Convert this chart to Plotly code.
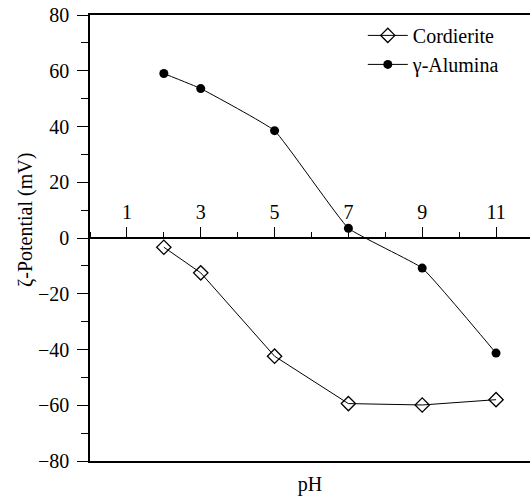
import plotly.graph_objects as go

ph = [2, 3, 5, 7, 9, 11]
cordierite = [-3.3, -12.5, -42.4, -59.4, -59.9, -58.0]
alumina = [59.0, 53.6, 38.5, 3.5, -10.8, -41.3]

y_ticks = [-80, -60, -40, -20, 0, 20, 40, 60, 80]
x_ticks = [1, 3, 5, 7, 9, 11]

FONT = "Times New Roman, Times, Liberation Serif, DejaVu Serif, serif"
FS = 20

fig = go.Figure()
fig.add_trace(go.Scatter(
    x=ph, y=cordierite, mode="lines+markers", name="Cordierite",
    line=dict(color="black", width=1),
    marker=dict(symbol="diamond-open", size=11, color="black", line=dict(width=1.3)),
))
fig.add_trace(go.Scatter(
    x=ph, y=alumina, mode="lines+markers", name="γ-Alumina",
    line=dict(color="black", width=1, shape="spline", smoothing=0.3),
    marker=dict(symbol="circle", size=9, color="black"),
))
# invisible trace to carry the zero-line x axis
fig.add_trace(go.Scatter(x=[], y=[], xaxis="x2", yaxis="y", showlegend=False))

fig.update_layout(
    width=530, height=497,
    margin=dict(l=90, r=0, t=15, b=36, autoexpand=False),
    plot_bgcolor="white", paper_bgcolor="white",
    font=dict(family=FONT, size=FS, color="black"),
    showlegend=True,
    legend=dict(x=0.62, y=0.998, xanchor="left", yanchor="top",
                bgcolor="rgba(0,0,0,0)", font=dict(family=FONT, size=FS),
                itemwidth=40, tracegroupgap=0),
    xaxis=dict(range=[0, 11.92], showline=True, linecolor="black", linewidth=1.5,
               mirror=True, ticks="", showticklabels=False, showgrid=False,
               zeroline=False, automargin=False,
               title=dict(text="pH", font=dict(family=FONT, size=FS), standoff=15)),
    xaxis2=dict(range=[0, 11.92], overlaying="x", anchor="free", position=0.5,
                side="top", showline=True, linecolor="black", linewidth=1.5,
                tickmode="array", tickvals=x_ticks, ticks="outside", ticklen=10,
                tickwidth=1.3, tickcolor="black", automargin=False,
                minor=dict(tick0=0, dtick=1, ticks="outside", ticklen=5,
                           tickwidth=1.3, tickcolor="black"),
                showgrid=False, zeroline=False,
                tickfont=dict(family=FONT, size=FS)),
    yaxis=dict(range=[-80, 80], showline=True, linecolor="black", linewidth=1.5,
               tickmode="array", tickvals=y_ticks, ticks="outside", ticklen=11,
               tickwidth=1.3, tickcolor="black", automargin=False,
               ticklabelstandoff=4,
               minor=dict(tick0=0, dtick=10, ticks="outside", ticklen=7,
                          tickwidth=1.3, tickcolor="black"),
               showgrid=False, zeroline=False,
               tickfont=dict(family=FONT, size=FS)),
    annotations=[dict(text="ζ-Potential (mV)", xref="paper", yref="paper",
                      x=-0.148, y=0.54, textangle=-90, showarrow=False,
                      xanchor="center", yanchor="middle",
                      font=dict(family=FONT, size=FS))],
)

fig.write_html("out.html", config={"displayModeBar": False},
               post_script="document.body.style.margin='0';document.body.style.overflow='hidden';")
